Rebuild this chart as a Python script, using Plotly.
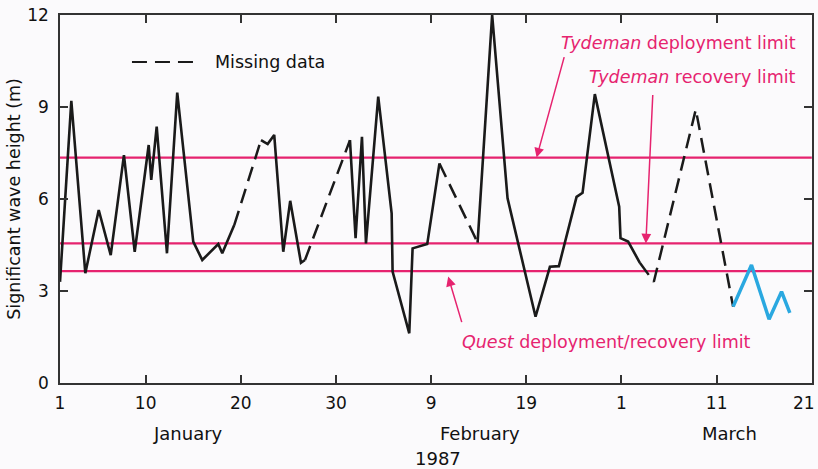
import plotly.graph_objects as go

# ---- data (day of year 1987, significant wave height in m) ----
solid_days = [1.0, 2.19, 3.66, 5.07, 6.33, 7.72, 8.85, 10.32, 10.59, 11.16, 12.24, 13.32,
              15.0, 15.95, 17.63, 18.05, 19.31, None,
              22.12, 22.82, 23.51, 24.46, 25.19, 26.32, 26.74, None,
              31.47, 32.06, 32.73, 33.15, 34.44, 35.85, 35.95, 37.70, 38.05, 39.59, 40.87, None,
              44.88, 46.41, 48.03, 50.97, 52.48, 53.42, 55.28, 55.91, 57.20, 59.76, 59.90,
              60.70, 61.93]
solid_hs = [3.3, 9.2, 3.58, 5.64, 4.17, 7.43, 4.28, 7.76, 6.62, 8.36, 4.23, 9.47,
            4.61, 4.01, 4.53, 4.23, 5.15, None,
            7.92, 7.79, 8.09, 4.28, 5.94, 3.92, 4.01, None,
            7.92, 4.72, 8.03, 4.55, 9.34, 5.53, 3.63, 1.62, 4.39, 4.53, 7.16, None,
            4.58, 12.0, 6.02, 2.16, 3.79, 3.81, 6.07, 6.2, 9.42, 5.75, 4.72,
            4.61, 3.92]

missing_days = [19.31, 22.12, None, 26.74, 31.47, None, 40.87, 44.88, None,
                61.93, 63.40, 67.81, 71.73]
missing_hs = [5.15, 7.92, None, 4.01, 7.92, None, 7.16, 4.58, None,
              3.92, 3.3, 8.92, 2.49]

quest_days = [71.73, 73.66, 75.51, 76.82, 77.69]
quest_hs = [2.49, 3.85, 2.08, 2.98, 2.29]

limit_names = ["Tydeman deployment limit", "Tydeman recovery limit", "Quest deployment/recovery limit"]
limit_values = [7.35, 4.55, 3.65]

tick_days = [1, 10, 20, 30, 40, 50, 60, 70, 80]
tick_text = ["1", "10", "20", "30", "9", "19", "1", "11", "21"]
month_names = ["January", "February", "March"]
month_days = [14.5, 45.1, 71.3]
year_label = "1987"
year_day = 40.7

PINK = "#e6236f"
BLUE = "#2aa8e0"
BLACK = "#1a1a1a"
FONT = "DejaVu Sans"
BG = "#fbfafc"

fig = go.Figure()

for v in limit_values:
    fig.add_trace(go.Scatter(x=[1, 80], y=[v, v], mode="lines",
                             line=dict(color=PINK, width=2.2), showlegend=False,
                             hoverinfo="skip"))

fig.add_trace(go.Scatter(x=solid_days, y=solid_hs, mode="lines",
                         line=dict(color=BLACK, width=2.6), connectgaps=False,
                         showlegend=False))
fig.add_trace(go.Scatter(x=missing_days, y=missing_hs, mode="lines",
                         line=dict(color=BLACK, width=2.5, dash="15px,8px"),
                         connectgaps=False, showlegend=False))
fig.add_trace(go.Scatter(x=quest_days, y=quest_hs, mode="lines",
                         line=dict(color=BLUE, width=3.5), showlegend=False))

# legend sample for missing data
fig.add_shape(type="line", xref="paper", yref="paper", x0=0.0957, x1=0.186,
              y0=0.872, y1=0.872, line=dict(color=BLACK, width=2, dash="15px,8px"))
fig.add_annotation(text="Missing data", xref="paper", yref="paper", x=0.2035, y=0.872,
                   xanchor="left", yanchor="middle", showarrow=False,
                   font=dict(family=FONT, size=17.5, color="#111"))

# limit labels
fig.add_annotation(text="<i>Tydeman</i> deployment limit", xref="paper", yref="paper",
                   x=0.981, y=0.924, xanchor="right", yanchor="middle", showarrow=False,
                   font=dict(family=FONT, size=17.5, color=PINK))
fig.add_annotation(text="<i>Tydeman</i> recovery limit", xref="paper", yref="paper",
                   x=0.981, y=0.8315, xanchor="right", yanchor="middle", showarrow=False,
                   font=dict(family=FONT, size=17.5, color=PINK))
fig.add_annotation(text="<i>Quest</i> deployment/recovery limit", xref="paper", yref="paper",
                   x=0.532, y=0.111, xanchor="left", yanchor="middle", showarrow=False,
                   font=dict(family=FONT, size=17.5, color=PINK))

# arrows
for (xd, yv, axp, ayp) in [(51.08, 7.35, 28, -102), (62.56, 4.55, 7, -150), (41.79, 3.47, 14, 47)]:
    fig.add_annotation(x=xd, y=yv, xref="x", yref="y", text="", showarrow=True,
                       ax=axp, ay=ayp, arrowhead=2, arrowsize=1.3, arrowwidth=1.5,
                       arrowcolor=PINK, standoff=0)

# month / year labels
for m, d in zip(month_names, month_days):
    fig.add_annotation(text=m, x=d, xref="x", y=-0.137, yref="paper", showarrow=False,
                       xanchor="center", yanchor="middle",
                       font=dict(family=FONT, size=18, color="#111"))
fig.add_annotation(text=year_label, x=year_day, xref="x", y=-0.204, yref="paper",
                   showarrow=False, xanchor="center", yanchor="middle",
                   font=dict(family=FONT, size=18, color="#111"))

# last tick label placed inside the page so it is not clipped
shown_ticktext = tick_text[:-1] + [""]
fig.add_annotation(text=tick_text[-1], x=tick_days[-1], xref="x", y=0, yref="paper",
                   xanchor="right", yanchor="middle", yshift=-20, xshift=5,
                   showarrow=False, font=dict(family=FONT, size=17, color="#111"))

axis_common = dict(showline=True, linecolor="#333", linewidth=1.5, mirror="ticks",
                   ticks="inside", ticklen=8, tickwidth=1.5, tickcolor="#333",
                   showgrid=False, zeroline=False, automargin=False,
                   tickfont=dict(family=FONT, size=17, color="#111"))

fig.update_xaxes(range=[1, 80.02], tickvals=tick_days, ticktext=shown_ticktext,
                 ticklabelstandoff=4, ticklabeloverflow="allow", **axis_common)
fig.update_yaxes(range=[0, 12], tickvals=[0, 3, 6, 9, 12], ticklabelstandoff=6,
                 title=dict(text="Significant wave height (m)", standoff=2,
                            font=dict(family=FONT, size=17.5, color="#111")),
                 **axis_common)

fig.update_layout(width=818, height=469, margin=dict(l=60, r=6, t=15, b=86),
                  paper_bgcolor=BG, plot_bgcolor=BG, showlegend=False,
                  font=dict(family=FONT, color="#111"))

fig.write_html("out.html")
